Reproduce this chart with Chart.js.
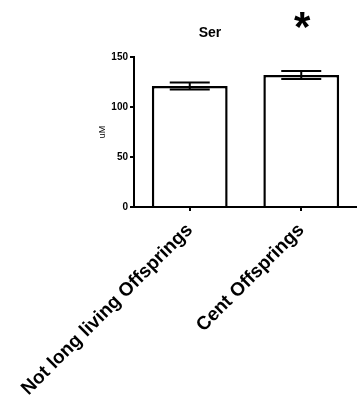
<!DOCTYPE html>
<html>
<head>
<meta charset="utf-8">
<script src="https://cdn.jsdelivr.net/npm/chart.js@4"></script>
<style>
  html, body { margin: 0; padding: 0; background: #fff; }
  #wrap { width: 357px; height: 415px; }
</style>
</head>
<body>
<div id="wrap"><canvas id="chart" width="357" height="415"></canvas></div>
<script>
// data
var categories = ["Not long living Offsprings", "Cent Offsprings"];
var means = [121, 132];
var sems = [3.5, 4];
var yTicks = [0, 50, 100, 150];
var significant = [false, true];

// error bars (mean +/- sem) drawn through the scales
var errorBars = {
  id: "errorBars",
  afterDatasetsDraw: function (chart) {
    var ctx = chart.ctx;
    var x = chart.scales.x, y = chart.scales.y;
    ctx.save();
    ctx.strokeStyle = "#000";
    ctx.lineWidth = 2;
    means.forEach(function (m, i) {
      var cx = x.getPixelForValue(i);
      var hi = y.getPixelForValue(m + sems[i]);
      var lo = y.getPixelForValue(m - sems[i]);
      var half = 20;
      ctx.beginPath();
      ctx.moveTo(cx, hi); ctx.lineTo(cx, lo);
      ctx.moveTo(cx - half, hi); ctx.lineTo(cx + half, hi);
      ctx.moveTo(cx - half, lo); ctx.lineTo(cx + half, lo);
      ctx.stroke();
    });
    ctx.restore();
  }
};

// title and significance marks
var labels = {
  id: "labels",
  afterDraw: function (chart) {
    var ctx = chart.ctx;
    var area = chart.chartArea;
    var x = chart.scales.x;
    ctx.save();
    ctx.fillStyle = "#000";
    ctx.textAlign = "center";
    ctx.textBaseline = "middle";
    ctx.font = "bold 14px 'Liberation Sans', Arial, sans-serif";
    ctx.fillText("Ser", area.left + 76, area.top - 24);
    ctx.font = "bold 42px 'Liberation Sans', Arial, sans-serif";
    significant.forEach(function (s, i) {
      if (s) ctx.fillText("*", x.getPixelForValue(i) + 1, area.top - 28);
    });
    ctx.restore();
  }
};

new Chart(document.getElementById("chart"), {
  type: "bar",
  data: {
    labels: categories,
    datasets: [{
      data: means,
      backgroundColor: "#fff",
      borderColor: "#000",
      borderWidth: 2.5,
      barPercentage: 0.68,
      categoryPercentage: 1
    }]
  },
  options: {
    responsive: false,
    animation: false,
    layout: { padding: { top: 57, left: 90, right: 0, bottom: 0 } },
    plugins: { legend: { display: false }, tooltip: { enabled: false } },
    scales: {
      x: {
        grid: { display: true, drawOnChartArea: false, offset: false, color: "#000", lineWidth: 2, tickLength: 4 },
        border: { color: "#000", width: 2 },
        ticks: {
          color: "#000",
          maxRotation: 45,
          minRotation: 45,
          padding: 8,
          font: { family: "'Liberation Sans', Arial, sans-serif", size: 19, weight: "bold" }
        },
        afterFit: function (scale) {
          scale.height = 208;
          scale.paddingLeft = 0;
          scale.paddingRight = 0;
        }
      },
      y: {
        min: 0,
        max: 150,
        afterBuildTicks: function (scale) {
          scale.ticks = yTicks.map(function (v) { return { value: v }; });
        },
        grid: { drawOnChartArea: false, color: "#000", lineWidth: 2, tickLength: 4 },
        border: { color: "#000", width: 2 },
        ticks: {
          color: "#000",
          padding: 2,
          font: { family: "'Liberation Sans', Arial, sans-serif", size: 10, weight: "bold" }
        },
        title: {
          display: true,
          text: "uM",
          color: "#000",
          padding: { top: 7, bottom: 0 },
          font: { family: "'Liberation Sans', Arial, sans-serif", size: 9 }
        },
        afterFit: function (scale) { scale.width = 44; }
      }
    }
  },
  plugins: [errorBars, labels]
});
</script>
</body>
</html>
